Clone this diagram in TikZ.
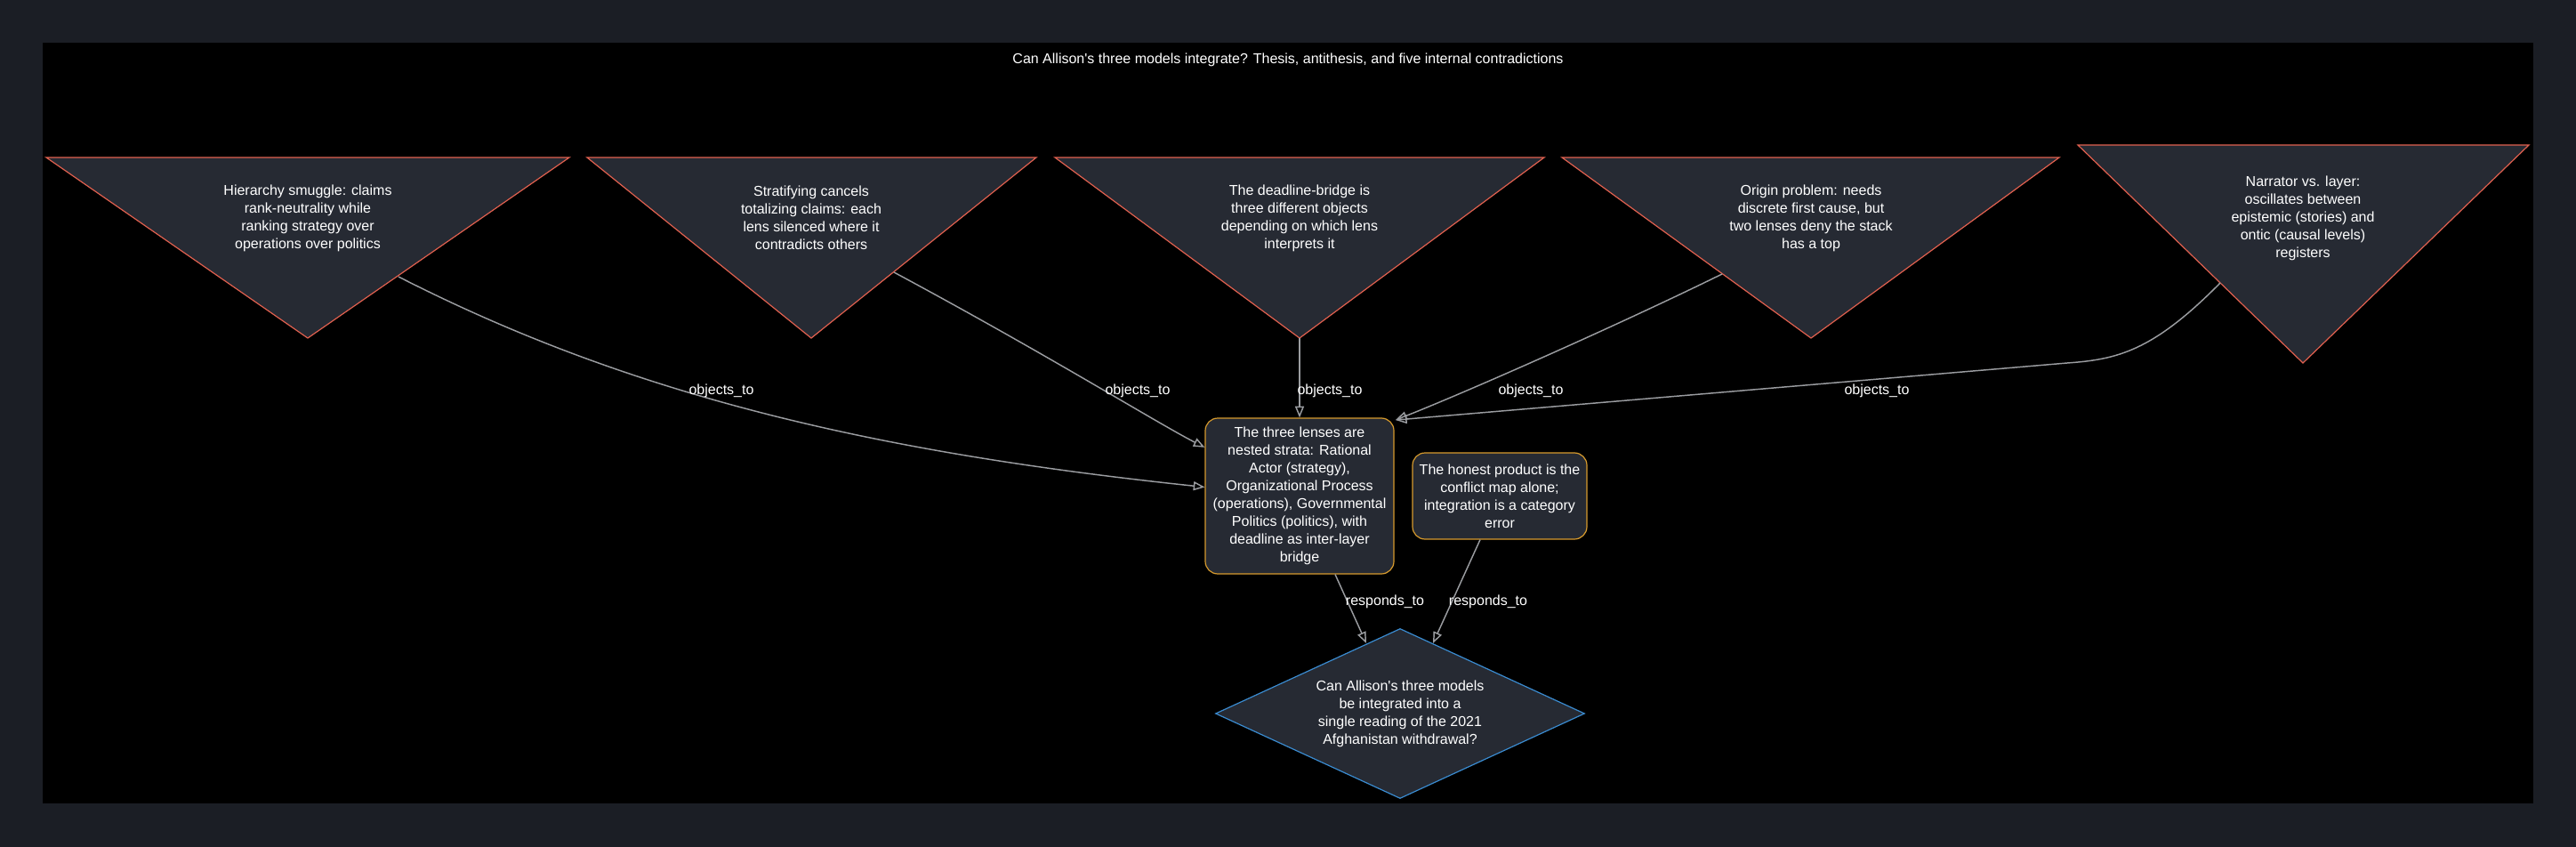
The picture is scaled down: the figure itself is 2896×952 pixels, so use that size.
\documentclass[tikz,border=0pt]{standalone}
\usepackage{fontspec}
\newfontfamily\dfont{Liberation Sans}
\usetikzlibrary{arrows.meta,shapes.geometric,calc}
\definecolor{outerbg}{HTML}{1B1E25}
\definecolor{nodefill}{HTML}{262A33}
\definecolor{redline}{HTML}{E0604F}
\definecolor{goldline}{HTML}{D69A2D}
\definecolor{blueline}{HTML}{3A8BD0}
\definecolor{edgegray}{HTML}{9A9CA0}
\begin{document}
\begin{tikzpicture}[x=0.75pt,y=-0.75pt,
  txt/.style={font=\dfont\fontsize{12}{15}\selectfont, text=white, align=center, inner sep=0pt},
  tri/.style={draw=redline, fill=nodefill, line width=0.9pt, line join=miter},
  box/.style={draw=goldline, fill=nodefill, line width=0.9pt, rounded corners=10.5pt, txt},
  ques/.style={diamond, aspect=2.17, draw=blueline, fill=nodefill, line width=0.9pt, txt},
  edge/.style={draw=edgegray, line width=1.1pt, -{Triangle[open,length=9.5pt,width=7.5pt]}},
  lbl/.style={txt}
]
\fill[outerbg] (0,0) rectangle (2896,952);
\fill[black] (48,48) rectangle (2848,903);
\useasboundingbox (0,0) rectangle (2896,952);

\node[txt] (title) at (1448,67) {Can Allison's three models integrate? Thesis, antithesis, and five internal contradictions};

% triangles (objections)
\path[tri] (52,177) -- (640,177) -- (346,380) -- cycle;
\node[txt] (c1) at (346,245) {Hierarchy smuggle: claims\\rank-neutrality while\\ranking strategy over\\operations over politics};
\path[tri] (660,177) -- (1165,177) -- (912,380) -- cycle;
\node[txt] (c2) at (912,245) {Stratifying cancels\\totalizing claims: each\\lens silenced where it\\contradicts others};
\path[tri] (1186,177) -- (1736,177) -- (1461,380) -- cycle;
\node[txt] (c3) at (1461,245) {The deadline-bridge is\\three different objects\\depending on which lens\\interprets it};
\path[tri] (1756,177) -- (2315,177) -- (2036,380) -- cycle;
\node[txt] (c4) at (2036,245) {Origin problem: needs\\discrete first cause, but\\two lenses deny the stack\\has a top};
\path[tri] (2336,163) -- (2843,163) -- (2589,408) -- cycle;
\node[txt] (c5) at (2589,245) {Narrator vs. layer:\\oscillates between\\epistemic (stories) and\\ontic (causal levels)\\registers};

% connector start points on triangle borders
\coordinate (o1) at (448,311);
\coordinate (o2) at (1005,306);
\coordinate (o3) at (1461,380);
\coordinate (o4) at (1936,308);
\coordinate (o5) at (2496,318);
\coordinate (bend5) at (2324,408);

% thesis, antithesis, question
\node[box, minimum width=159pt, minimum height=131.25pt] (thesis) at (1461,557.5) {The three lenses are\\nested strata: Rational\\Actor (strategy),\\Organizational Process\\(operations), Governmental\\Politics (politics), with\\deadline as inter-layer\\bridge};
\node[box, minimum width=147pt, minimum height=72.75pt] (product) at (1686,557.5) {The honest product is the\\conflict map alone;\\integration is a category\\error};
\node[ques, minimum width=311.25pt, minimum height=143.25pt] (question) at (1574,802) {Can Allison's three models\\be integrated into a\\single reading of the 2021\\Afghanistan withdrawal?};

% objects_to connectors
\draw[edge] (o1) .. controls (720,450) and (1000,510) .. ([yshift=7.5pt]thesis.west);
\draw[edge] (o2) .. controls (1180,400) and (1300,475) .. ([yshift=41pt]thesis.west);
\draw[edge] (o3) -- (thesis.north);
\draw[edge] (o4) .. controls (1820,365) and (1650,440) .. ([xshift=1pt,yshift=-2pt]thesis.north east);
\draw[edge] (o5) .. controls (2420,395) and (2380,404) .. (bend5) -- ([xshift=1pt,yshift=-2pt]thesis.north east);

% responds_to connectors
\draw[edge] ([xshift=30pt]thesis.south) -- ($(question.center)+(-38,-79)$);
\draw[edge] ([xshift=-16.5pt]product.south) -- ($(question.center)+(37,-79)$);

% labels
\node[lbl] (l1) at (811,439) {objects\_to};
\node[lbl] (l2) at (1279,439) {objects\_to};
\node[lbl] (l3) at (1495,439) {objects\_to};
\node[lbl] (l4) at (1721,439) {objects\_to};
\node[lbl] (l5) at (2110,439) {objects\_to};
\node[lbl] (l6) at (1557,676) {responds\_to};
\node[lbl] (l7) at (1673,676) {responds\_to};
\end{tikzpicture}
\end{document}
